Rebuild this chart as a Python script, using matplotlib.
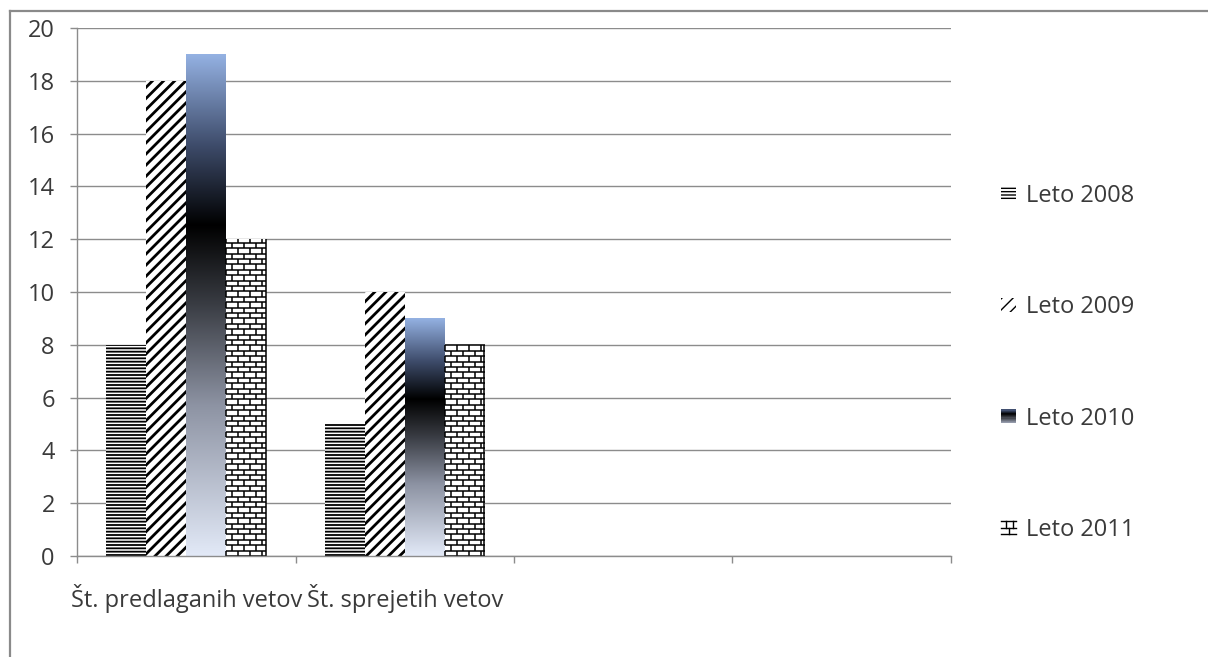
import matplotlib
matplotlib.use("Agg")
import matplotlib.pyplot as plt
import numpy as np
from matplotlib.patches import Rectangle
from matplotlib.collections import LineCollection
from matplotlib.colors import LinearSegmentedColormap
from matplotlib.legend_handler import HandlerBase
from matplotlib.lines import Line2D

# ---------------- data ----------------
categories = ["Št. predlaganih vetov", "Št. sprejetih vetov"]
n_slots = 4
series_names = ["Leto 2008", "Leto 2009", "Leto 2010", "Leto 2011"]
leto_2008 = [8, 5]
leto_2009 = [18, 10]
leto_2010 = [19, 9]
leto_2011 = [12, 8]
y_ticks = [0, 2, 4, 6, 8, 10, 12, 14, 16, 18, 20]

plt.rcParams['font.family'] = ['Open Sans', 'DejaVu Sans']
TXT = '#3a3a3a'
GRID = '#8c8c8c'
FS = 17

W, H = 1208, 657
fig = plt.figure(figsize=(W / 100, H / 100), dpi=100)
ax_l, ax_b, ax_w, ax_h = 77 / W, 1 - 556 / H, (951 - 77) / W, (556 - 28) / H
ax = fig.add_axes([ax_l, ax_b, ax_w, ax_h])
ax.set_xlim(-0.5, n_slots - 0.5)
ax.set_ylim(0, 20)

px_x = (n_slots) / (ax_w * W)   # data units per pixel (x)
px_y = 20 / (ax_h * H)          # data units per pixel (y)

bw = 0.183
offsets = np.array([-1.5, -0.5, 0.5, 1.5]) * bw
x = np.arange(len(categories))

grad = LinearSegmentedColormap.from_list(
    "g", [(0.0, '#e2e9f7'), (0.3, '#8d93a3'), (0.5, '#3a3d44'),
          (0.66, '#000000'), (0.82, '#3e4c6b'), (1.0, '#94b1e2')])

def hatched_bars(vals, off, hatch, hlw):
    bars = ax.bar(x + off, vals, bw, facecolor='white', edgecolor='black',
                  linewidth=0, hatch=hatch, zorder=3)
    for b in bars:
        if hasattr(b, 'set_hatch_linewidth'):
            b.set_hatch_linewidth(hlw)
    return bars

with plt.rc_context({'hatch.linewidth': 1.3}):
    b08 = hatched_bars(leto_2008, offsets[0], '-----', 1.3)
with plt.rc_context({'hatch.linewidth': 2.0}):
    b09 = hatched_bars(leto_2009, offsets[1], '///', 2.0)

# gradient bars
b10 = ax.bar(x + offsets[2], leto_2010, bw, color='none', linewidth=0, zorder=3)
for b in b10:
    x0, w, h = b.get_x(), b.get_width(), b.get_height()
    img = np.linspace(1, 0, 256).reshape(-1, 1)
    im = ax.imshow(img, cmap=grad, aspect='auto', extent=(x0, x0 + w, 0, h),
                   zorder=3, interpolation='bilinear', vmin=0, vmax=1)
    im.set_clip_path(b)

# brick bars
b11 = ax.bar(x + offsets[3], leto_2011, bw, facecolor='white', linewidth=0, zorder=3)
row_h = 5.4 * px_y
brick_w = 12.0 * px_x
for b in b11:
    x0, w, h = b.get_x(), b.get_width(), b.get_height()
    segs = []
    nrows = int(np.floor(h / row_h))
    for k in range(nrows + 1):
        yk = k * row_h
        segs.append([(x0, yk), (x0 + w, yk)])
    for k in range(nrows + 1):
        y0, y1 = k * row_h, min((k + 1) * row_h, h)
        off = (k % 2) * brick_w / 2
        xv = x0 + off
        while xv <= x0 + w + 1e-9:
            segs.append([(xv, y0), (xv, y1)])
            xv += brick_w
    segs.append([(x0 + w - 0.5 * px_x, 0), (x0 + w - 0.5 * px_x, h)])
    lc = LineCollection(segs, colors='black', linewidths=1.1, zorder=4)
    lc.set_clip_path(b)
    ax.add_collection(lc)

# axes styling
ax.set_yticks(y_ticks)
ax.set_yticklabels([str(t) for t in y_ticks])
ax.grid(axis='y', color=GRID, linewidth=1.0, zorder=0)
ax.set_axisbelow(True)
for s in ['top', 'right']:
    ax.spines[s].set_visible(False)
for s in ['left', 'bottom']:
    ax.spines[s].set_color(GRID)
    ax.spines[s].set_linewidth(1.0)
    ax.spines[s].set_zorder(5)
ax.tick_params(axis='y', colors=GRID, labelcolor=TXT, labelsize=FS,
               length=5, width=1.0, pad=11)
ax.set_xticks(np.arange(-0.5, n_slots, 1.0))
ax.set_xticklabels([])
ax.tick_params(axis='x', which='major', colors=GRID, length=5, width=1.0)
ax.set_xticks(x, minor=True)
ax.set_xticklabels(categories, minor=True)
ax.tick_params(axis='x', which='minor', length=0, labelsize=FS,
               labelcolor=TXT, pad=20)

# legend handlers
class GradHandler(HandlerBase):
    def create_artists(self, legend, orig_handle, xdescent, ydescent,
                       width, height, fontsize, trans):
        arts = []
        n = 12
        for i in range(n):
            c = grad(0.25 + 0.6 * (i + 0.5) / n)
            arts.append(Rectangle((-xdescent, -ydescent + height * i / n),
                                  width, height / n + 0.2, facecolor=c,
                                  edgecolor='none', transform=trans))
        return arts

class BrickHandler(HandlerBase):
    def create_artists(self, legend, orig_handle, xdescent, ydescent,
                       width, height, fontsize, trans):
        x0, y0 = -xdescent, -ydescent
        arts = []
        for fy in (0.0, 0.5, 1.0):
            arts.append(Line2D([x0, x0 + width], [y0 + fy * height] * 2,
                               color='black', lw=1.0, transform=trans))
        for fx, (a, bb) in [(0.3, (0.5, 1.0)), (0.8, (0.5, 1.0)),
                            (0.55, (0.0, 0.5))]:
            arts.append(Line2D([x0 + fx * width] * 2,
                               [y0 + a * height, y0 + bb * height],
                               color='black', lw=1.0, transform=trans))
        return arts

class HatchProxy(Rectangle):
    pass

class GradProxy(Rectangle):
    pass

h08 = Rectangle((0, 0), 1, 1, facecolor='white', edgecolor='black', lw=0, hatch='-----')
h09 = Rectangle((0, 0), 1, 1, facecolor='white', edgecolor='black', lw=0, hatch='///')
for hp, lw_ in ((h08, 1.3), (h09, 2.0)):
    if hasattr(hp, 'set_hatch_linewidth'):
        hp.set_hatch_linewidth(lw_)
h10 = GradProxy((0, 0), 1, 1)
h11 = HatchProxy((0, 0), 1, 1)

leg = fig.legend([h08, h09, h10, h11], series_names,
                 loc='center left', bbox_to_anchor=(980 / W, 1 - 363 / H),
                 frameon=False, fontsize=FS, labelcolor=TXT,
                 handlelength=0.62, handleheight=0.5, handletextpad=0.42,
                 labelspacing=3.7,
                 handler_map={GradProxy: GradHandler(), HatchProxy: BrickHandler()})

# outer frame lines (top and left)
fig.add_artist(Line2D([10 / W, 1], [1 - 11 / H, 1 - 11 / H], color='#8a8a8a',
                      lw=1.6, transform=fig.transFigure))
fig.add_artist(Line2D([10 / W, 10 / W], [0, 1 - 11 / H], color='#8a8a8a',
                      lw=1.6, transform=fig.transFigure))

fig.savefig("out.png", dpi=100)
